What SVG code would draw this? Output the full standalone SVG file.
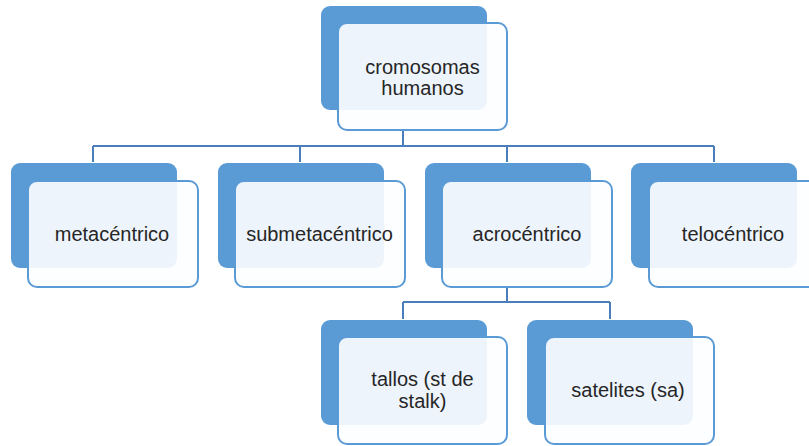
<svg xmlns="http://www.w3.org/2000/svg" width="809" height="446" viewBox="0 0 809 446">
<defs>
<style>
.back{fill:#5b9bd5;}
.front{fill:#fdfeff;fill-opacity:0.9;stroke:#5b9bd5;stroke-width:2;}
.lbl{font-family:"Liberation Sans",Arial,sans-serif;font-size:20px;fill:#262626;text-anchor:middle;}
.conn{fill:none;stroke:#4a7ebb;stroke-width:2;}
</style>
</defs>
<rect width="809" height="446" fill="#ffffff"/>
<g id="connectors">
<path class="conn" d="M403 130 V146 M93 146 H714 M93 146 V162 M300 146 V162 M507 146 V162 M714 146 V162"/>
<path class="conn" d="M507 287 V302 M403 302 H610 M403 302 V319 M610 302 V319"/>
</g>
<g id="cromosomas">
<rect class="back" x="321" y="6" width="166" height="104" rx="9"/>
<rect class="front" x="338" y="23" width="169" height="107" rx="9"/>
<text class="lbl" x="422.5" y="74">cromosomas</text>
<text class="lbl" x="422.5" y="95">humanos</text>
</g>
<g id="metacentrico">
<rect class="back" x="11" y="163" width="166" height="105" rx="9"/>
<rect class="front" x="28" y="181" width="170" height="106" rx="9"/>
<text class="lbl" x="112" y="241">metacéntrico</text>
</g>
<g id="submetacentrico">
<rect class="back" x="218" y="163" width="166" height="105" rx="9"/>
<rect class="front" x="235" y="181" width="170" height="106" rx="9"/>
<text class="lbl" x="319.5" y="241">submetacéntrico</text>
</g>
<g id="acrocentrico">
<rect class="back" x="425" y="163" width="166" height="105" rx="9"/>
<rect class="front" x="442" y="181" width="170" height="106" rx="9"/>
<text class="lbl" x="527" y="241">acrocéntrico</text>
</g>
<g id="telocentrico">
<rect class="back" x="631" y="163" width="166" height="105" rx="9"/>
<rect class="front" x="649" y="181" width="170" height="106" rx="9"/>
<text class="lbl" x="733" y="241">telocéntrico</text>
</g>
<g id="tallos">
<rect class="back" x="321" y="320" width="166" height="105" rx="9"/>
<rect class="front" x="338" y="337" width="169" height="107" rx="9"/>
<text class="lbl" x="422.5" y="386">tallos (st de</text>
<text class="lbl" x="422.5" y="408">stalk)</text>
</g>
<g id="satelites">
<rect class="back" x="527" y="320" width="166" height="105" rx="9"/>
<rect class="front" x="545" y="337" width="169" height="107" rx="9"/>
<text class="lbl" x="628" y="397">satelites (sa)</text>
</g>
</svg>
